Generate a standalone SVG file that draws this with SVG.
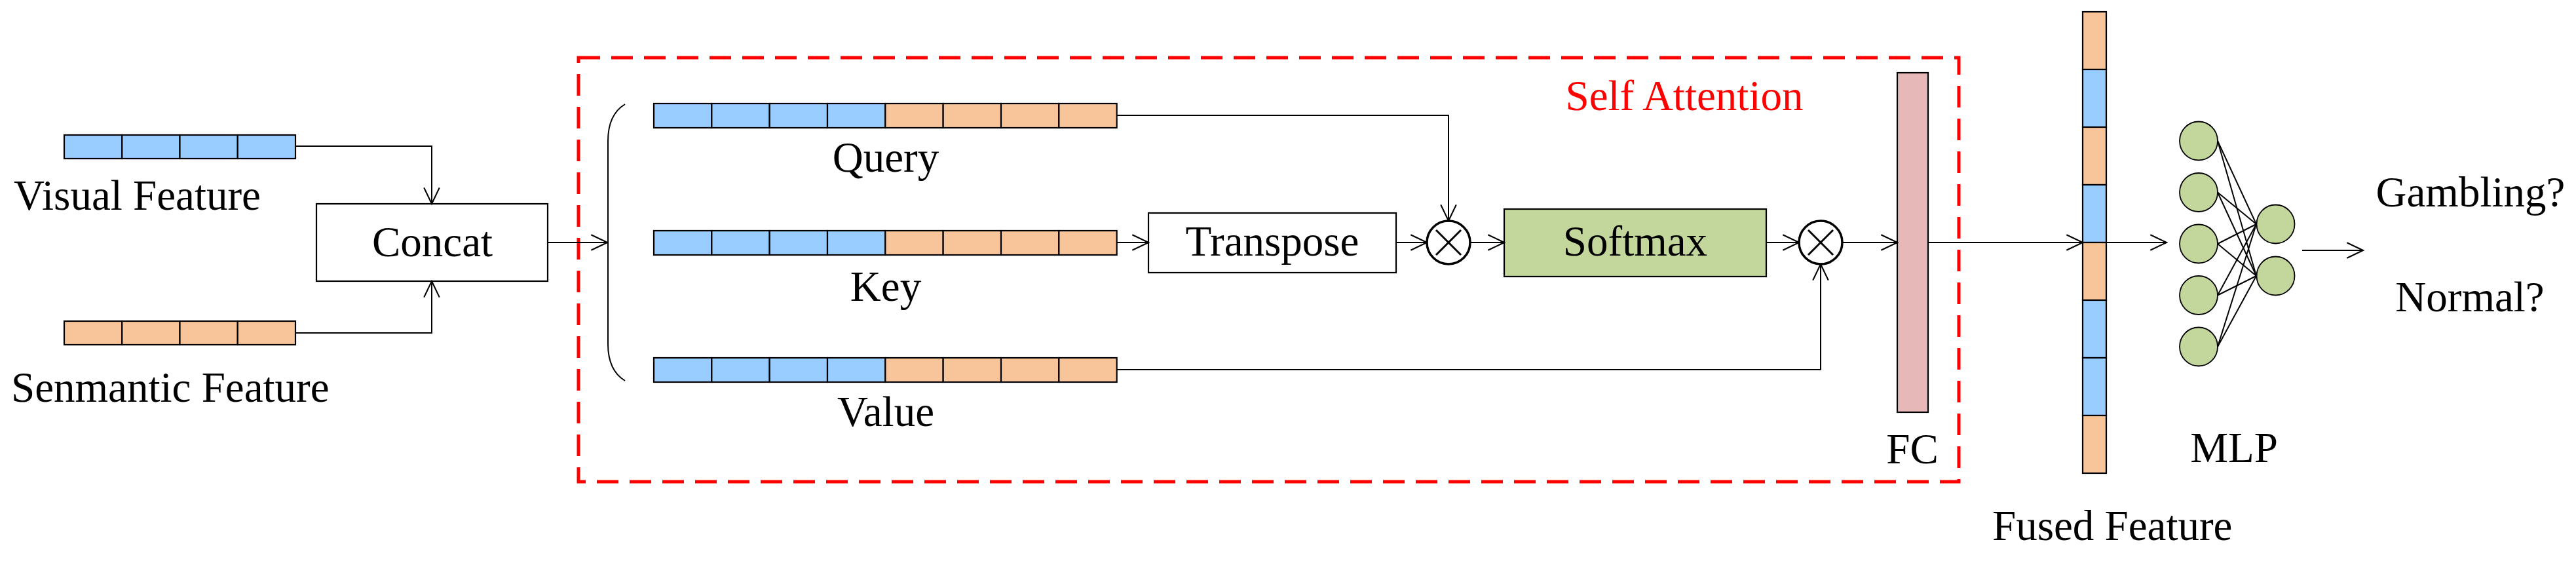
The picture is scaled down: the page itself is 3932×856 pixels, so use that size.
<svg xmlns="http://www.w3.org/2000/svg" width="3932" height="856" viewBox="0 0 3932 856">
<style>
text{font-family:'Liberation Serif','Times New Roman','DejaVu Serif',serif;font-size:65px;fill:#000}
.mid{text-anchor:middle}
.b{fill:#99CCFF;stroke:#000;stroke-width:2.2}
.o{fill:#F8C59B;stroke:#000;stroke-width:2.2}
.box{fill:#fff;stroke:#000;stroke-width:2.2}
.conn{fill:none;stroke:#000;stroke-width:2}
.mul{fill:#fff;stroke:#000;stroke-width:3.5}
.x{stroke:#000;stroke-width:3}
.neuron{fill:#C3D69B;stroke:#000;stroke-width:1.8}
.syn{stroke:#000;stroke-width:2}
</style>
<defs>
<marker id="arr" markerUnits="userSpaceOnUse" markerWidth="30" markerHeight="30" viewBox="-26 -14 28 28" refX="0" refY="0" orient="auto">
<path d="M-23,-11 L0,0 L-23,11" fill="none" stroke="#000" stroke-width="2"/>
</marker>
</defs>
<rect width="3932" height="856" fill="#fff"/>

<g id="self-attention-frame">
<rect x="883" y="88" width="2107" height="647" fill="none" stroke="#FF0000" stroke-width="5" stroke-dasharray="33 17"/>
<text x="2571" y="168" class="mid" font-family="Liberation Serif, DejaVu Serif, serif" style="fill:#FF0000">Self Attention</text>
</g>

<g id="visual-feature">
<rect class="b" x="98" y="206" width="88.25" height="36"/>
<rect class="b" x="186.25" y="206" width="88.25" height="36"/>
<rect class="b" x="274.5" y="206" width="88.25" height="36"/>
<rect class="b" x="362.75" y="206" width="88.25" height="36"/>
<text x="21" y="320" font-family="Liberation Serif, DejaVu Serif, serif">Visual Feature</text>
</g>

<g id="semantic-feature">
<rect class="o" x="98" y="490" width="88.25" height="36"/>
<rect class="o" x="186.25" y="490" width="88.25" height="36"/>
<rect class="o" x="274.5" y="490" width="88.25" height="36"/>
<rect class="o" x="362.75" y="490" width="88.25" height="36"/>
<text x="17" y="613" font-family="Liberation Serif, DejaVu Serif, serif">Senmantic Feature</text>
</g>

<g id="concat">
<rect class="box" x="483" y="311" width="353" height="118"/>
<text x="660" y="391" class="mid" font-family="Liberation Serif, DejaVu Serif, serif">Concat</text>
</g>

<g id="bracket">
<path d="M954,159 C936,170 928,190 928,215 L928,525 C928,552 936,570 954,581" fill="none" stroke="#000" stroke-width="2"/>
</g>

<g id="query">
<rect class="b" x="998" y="158" width="88.33" height="37"/>
<rect class="b" x="1086.33" y="158" width="88.33" height="37"/>
<rect class="b" x="1174.66" y="158" width="88.33" height="37"/>
<rect class="b" x="1263" y="158" width="88.33" height="37"/>
<rect class="o" x="1351.33" y="158" width="88.33" height="37"/>
<rect class="o" x="1439.66" y="158" width="88.33" height="37"/>
<rect class="o" x="1528" y="158" width="88.33" height="37"/>
<rect class="o" x="1616.33" y="158" width="88.33" height="37"/>
<text x="1352" y="262" class="mid" font-family="Liberation Serif, DejaVu Serif, serif">Query</text>
</g>

<g id="key">
<rect class="b" x="998" y="352" width="88.33" height="37"/>
<rect class="b" x="1086.33" y="352" width="88.33" height="37"/>
<rect class="b" x="1174.66" y="352" width="88.33" height="37"/>
<rect class="b" x="1263" y="352" width="88.33" height="37"/>
<rect class="o" x="1351.33" y="352" width="88.33" height="37"/>
<rect class="o" x="1439.66" y="352" width="88.33" height="37"/>
<rect class="o" x="1528" y="352" width="88.33" height="37"/>
<rect class="o" x="1616.33" y="352" width="88.33" height="37"/>
<text x="1352" y="459" class="mid" font-family="Liberation Serif, DejaVu Serif, serif">Key</text>
</g>

<g id="value">
<rect class="b" x="998" y="546" width="88.33" height="37"/>
<rect class="b" x="1086.33" y="546" width="88.33" height="37"/>
<rect class="b" x="1174.66" y="546" width="88.33" height="37"/>
<rect class="b" x="1263" y="546" width="88.33" height="37"/>
<rect class="o" x="1351.33" y="546" width="88.33" height="37"/>
<rect class="o" x="1439.66" y="546" width="88.33" height="37"/>
<rect class="o" x="1528" y="546" width="88.33" height="37"/>
<rect class="o" x="1616.33" y="546" width="88.33" height="37"/>
<text x="1352" y="650" class="mid" font-family="Liberation Serif, DejaVu Serif, serif">Value</text>
</g>

<g id="transpose">
<rect class="box" x="1753" y="325" width="378" height="91"/>
<text x="1942" y="390" class="mid" font-family="Liberation Serif, DejaVu Serif, serif">Transpose</text>
</g>

<g id="multiply-1">
<circle class="mul" cx="2211" cy="370" r="33"/>
<path class="x" d="M2192,351 L2230,389 M2230,351 L2192,389"/>
</g>

<g id="softmax">
<rect x="2296" y="319" width="400" height="103" fill="#C3D69B" stroke="#000" stroke-width="2.2"/>
<text x="2496" y="390" class="mid" font-family="Liberation Serif, DejaVu Serif, serif">Softmax</text>
</g>

<g id="multiply-2">
<circle class="mul" cx="2779" cy="370" r="33"/>
<path class="x" d="M2760,351 L2798,389 M2798,351 L2760,389"/>
</g>

<g id="fc">
<rect x="2896" y="111" width="47" height="518" fill="#E6B9B8" stroke="#000" stroke-width="2.2"/>
<text x="2919" y="707" class="mid" font-family="Liberation Serif, DejaVu Serif, serif">FC</text>
</g>

<g id="fused-feature">
<rect class="o" x="3179" y="18" width="36" height="88"/>
<rect class="b" x="3179" y="106" width="36" height="88"/>
<rect class="o" x="3179" y="194" width="36" height="88"/>
<rect class="b" x="3179" y="282" width="36" height="88"/>
<rect class="o" x="3179" y="370" width="36" height="88"/>
<rect class="b" x="3179" y="458" width="36" height="88"/>
<rect class="b" x="3179" y="546" width="36" height="88"/>
<rect class="o" x="3179" y="634" width="36" height="88"/>
<text x="3041" y="824" font-family="Liberation Serif, DejaVu Serif, serif">Fused Feature</text>
</g>

<g id="mlp">
<line class="syn" x1="3385" y1="215" x2="3444" y2="342"/>
<line class="syn" x1="3385" y1="215" x2="3444" y2="421"/>
<line class="syn" x1="3385" y1="293.5" x2="3444" y2="342"/>
<line class="syn" x1="3385" y1="293.5" x2="3444" y2="421"/>
<line class="syn" x1="3385" y1="372" x2="3444" y2="342"/>
<line class="syn" x1="3385" y1="372" x2="3444" y2="421"/>
<line class="syn" x1="3385" y1="450.5" x2="3444" y2="342"/>
<line class="syn" x1="3385" y1="450.5" x2="3444" y2="421"/>
<line class="syn" x1="3385" y1="529" x2="3444" y2="342"/>
<line class="syn" x1="3385" y1="529" x2="3444" y2="421"/>
<ellipse class="neuron" cx="3356" cy="215" rx="29" ry="29.5"/>
<ellipse class="neuron" cx="3356" cy="293.5" rx="29" ry="29.5"/>
<ellipse class="neuron" cx="3356" cy="372" rx="29" ry="29.5"/>
<ellipse class="neuron" cx="3356" cy="450.5" rx="29" ry="29.5"/>
<ellipse class="neuron" cx="3356" cy="529" rx="29" ry="29.5"/>
<ellipse class="neuron" cx="3473.5" cy="342" rx="29" ry="29.5"/>
<ellipse class="neuron" cx="3473.5" cy="421" rx="29" ry="29.5"/>
<text x="3410" y="705" class="mid" font-family="Liberation Serif, DejaVu Serif, serif">MLP</text>
</g>

<g id="outputs">
<text x="3771" y="315" class="mid" font-family="Liberation Serif, DejaVu Serif, serif">Gambling?</text>
<text x="3770" y="475" class="mid" font-family="Liberation Serif, DejaVu Serif, serif">Normal?</text>
</g>

<g id="connectors">
<path class="conn" d="M451,223 H659 V311" marker-end="url(#arr)"/>
<path class="conn" d="M451,508 H659 V429" marker-end="url(#arr)"/>
<path class="conn" d="M836,370 H927" marker-end="url(#arr)"/>
<path class="conn" d="M1705,176 H2211 V337" marker-end="url(#arr)"/>
<path class="conn" d="M1705,370 H1753" marker-end="url(#arr)"/>
<path class="conn" d="M2131,370 H2178" marker-end="url(#arr)"/>
<path class="conn" d="M2244,370 H2296" marker-end="url(#arr)"/>
<path class="conn" d="M2696,370 H2746" marker-end="url(#arr)"/>
<path class="conn" d="M1705,564 H2779 V403" marker-end="url(#arr)"/>
<path class="conn" d="M2812,370 H2896" marker-end="url(#arr)"/>
<path class="conn" d="M2943,370 H3179" marker-end="url(#arr)"/>
<path class="conn" d="M3215,370 H3307" marker-end="url(#arr)"/>
<path class="conn" d="M3514,382 H3607" marker-end="url(#arr)"/>
</g>
</svg>
